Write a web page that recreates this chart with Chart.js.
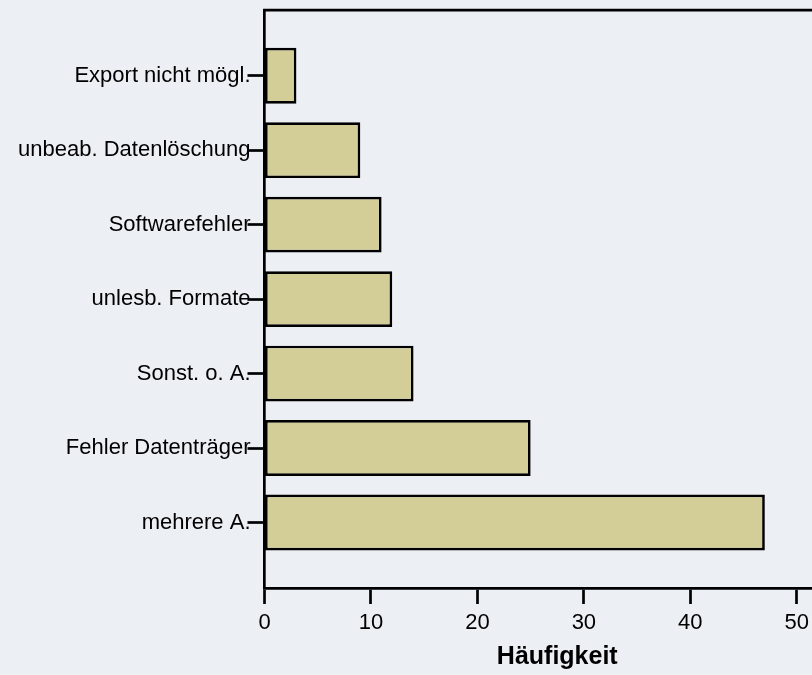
<!DOCTYPE html>
<html>
<head>
<meta charset="utf-8">
<script src="https://cdn.jsdelivr.net/npm/chart.js@4"></script>
<style>
  html, body { margin: 0; padding: 0; overflow: hidden; background: #ECEFF4; }
  #wrap { width: 850px; height: 675px; position: relative; }
</style>
</head>
<body>
<div id="wrap"><canvas id="c"></canvas></div>
<script>
const categories = ["Export nicht mögl.", "unbeab. Datenlöschung", "Softwarefehler", "unlesb. Formate", "Sonst. o. A.", "Fehler Datenträger", "mehrere A."];
const counts = [3, 9, 11, 12, 14, 25, 47];
const xTicks = [0, 10, 20, 30, 40, 50];
const xTitle = "Häufigkeit";

const bg = {
  id: 'bg',
  beforeDraw(chart) {
    const ctx = chart.ctx;
    ctx.save();
    ctx.fillStyle = '#ECEFF4';
    ctx.fillRect(0, 0, chart.width, chart.height);
    ctx.restore();
  },
  afterDraw(chart) {
    const a = chart.chartArea, ctx = chart.ctx;
    ctx.save();
    ctx.strokeStyle = '#000';
    ctx.lineWidth = 2.7;
    ctx.beginPath();
    ctx.moveTo(a.left - 1.35, a.top);
    ctx.lineTo(chart.width, a.top);
    ctx.stroke();
    ctx.restore();
  }
};

const FONT = "'Liberation Sans', Arial, sans-serif";

new Chart(document.getElementById('c'), {
  type: 'bar',
  data: {
    datasets: [{
      data: counts.map((v, i) => ({ x: v, y: i })),
      backgroundColor: '#D3CE98',
      borderColor: '#000',
      borderWidth: 2.7,
      borderSkipped: false,
      barPercentage: 0.75,
      categoryPercentage: 1
    }]
  },
  options: {
    indexAxis: 'y',
    responsive: true,
    maintainAspectRatio: false,
    animation: false,
    layout: { padding: { top: 10, left: 0, right: 0, bottom: 0 } },
    plugins: { legend: { display: false }, tooltip: { enabled: false } },
    scales: {
      x: {
        type: 'linear',
        min: 0,
        max: 55,
        afterBuildTicks: s => { s.ticks = xTicks.map(v => ({ value: v })); },
        afterFit: s => { s.height = 87; },
        ticks: { color: '#000', padding: 6, font: { family: FONT, size: 22 } },
        grid: { drawOnChartArea: false, drawTicks: true, tickLength: 16, tickWidth: 2.7, tickColor: '#000' },
        border: { display: true, color: '#000', width: 2.7 },
        title: {
          display: true, text: xTitle, color: '#000',
          font: { family: FONT, size: 25, weight: 'bold' },
          padding: { top: 0, bottom: 3 }
        }
      },
      y: {
        type: 'linear',
        reverse: true,
        offset: false,
        min: -0.88,
        max: 6.88,
        afterBuildTicks: s => { s.ticks = categories.map((c, i) => ({ value: i })); },
        afterFit: s => { s.width = 264.5; },
        ticks: {
          color: '#000', padding: -3,
          font: { family: FONT, size: 22 },
          callback: v => categories[v]
        },
        grid: { offset: false, drawOnChartArea: false, drawTicks: true, tickLength: 17, tickWidth: 2.7, tickColor: '#000' },
        border: { display: true, color: '#000', width: 2.7 }
      }
    }
  },
  plugins: [bg]
});
</script>
</body>
</html>
